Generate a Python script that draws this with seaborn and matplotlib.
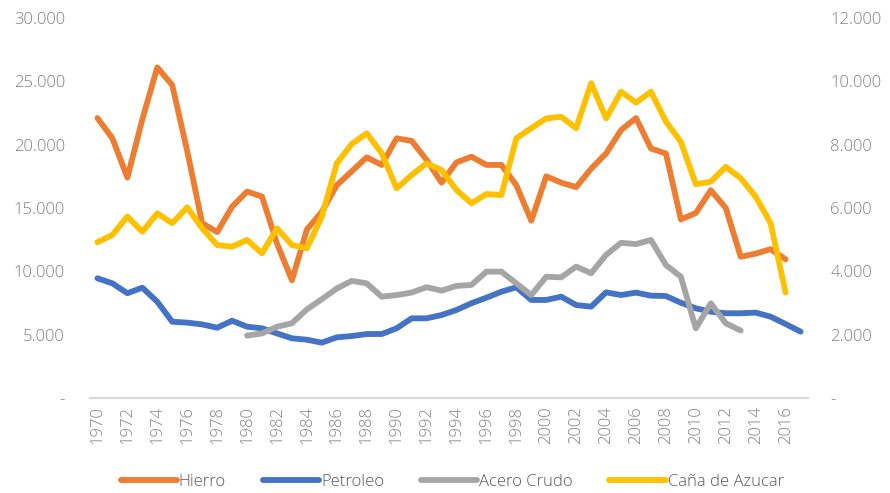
import numpy as np
import pandas as pd
import matplotlib
matplotlib.use("Agg")
import matplotlib.pyplot as plt
from matplotlib.ticker import FuncFormatter
import seaborn as sns

nan = np.nan

# años 1970-2017
years = list(range(1970, 2018))

# eje izquierdo
hierro = [22100, 20500, 17400, 22000, 26100, 24700, 19500, 13800, 13100, 15100,
          16300, 15900, 12200, 9300, 13300, 14700, 16800, 17900, 19000, 18400,
          20500, 20300, 18800, 17000, 18600, 19050, 18400, 18400, 16800, 14000,
          17500, 17000, 16650, 18100, 19300, 21150, 22100, 19700, 19300, 14100,
          14600, 16400, 15000, 11150, 11400, 11750, 10950, nan]
petroleo = [9450, 9050, 8270, 8710, 7600, 6020, 5950, 5810, 5550, 6100,
            5630, 5500, 5100, 4710, 4600, 4370, 4790, 4890, 5050, 5050,
            5500, 6290, 6290, 6550, 6950, 7480, 7920, 8390, 8740, 7740,
            7740, 8000, 7340, 7210, 8340, 8130, 8320, 8080, 8050, 7520,
            7080, 6810, 6690, 6690, 6740, 6420, 5840, 5240]

# eje derecho
acero = [nan] * 10 + [1970, 2040, 2250, 2360, 2800, 3120, 3460, 3700, 3620, 3200,
                      3250, 3330, 3500, 3390, 3540, 3570, 3990, 3990, 3620, 3250,
                      3830, 3810, 4150, 3940, 4520, 4900, 4860, 4990, 4200, 3830,
                      2200, 2990, 2360, 2130] + [nan] * 4
cana = [4920, 5150, 5730, 5250, 5830, 5520, 6020, 5360, 4830, 4780,
        4990, 4570, 5360, 4830, 4730, 5730, 7410, 8020, 8360, 7730,
        6620, 7040, 7410, 7200, 6570, 6150, 6440, 6410, 8200, 8520,
        8830, 8880, 8520, 9940, 8830, 9670, 9330, 9670, 8730, 8090,
        6750, 6830, 7300, 6940, 6360, 5520, 3330, nan]

colores = {"Hierro": "#ED7D31", "Petroleo": "#4472C4",
           "Acero Crudo": "#A5A5A5", "Caña de Azucar": "#FFC000"}

df_izq = pd.DataFrame({"Año": years * 2,
                       "Valor": hierro + petroleo,
                       "Serie": ["Hierro"] * 48 + ["Petroleo"] * 48}).dropna()
df_der = pd.DataFrame({"Año": years * 2,
                       "Valor": acero + cana,
                       "Serie": ["Acero Crudo"] * 48 + ["Caña de Azucar"] * 48}).dropna()

sns.set_style("white")
plt.rcParams["font.family"] = ["Open Sans", "DejaVu Sans"]
plt.rcParams["font.weight"] = "light"
gris = "#808080"

fig = plt.figure(figsize=(8.9, 4.93), dpi=100)
ax = fig.add_axes([0.1011, 0.1927, 0.8068, 0.7708])
ax2 = ax.twinx()

estilo = dict(linewidth=4.2, solid_capstyle="round", solid_joinstyle="round")
sns.lineplot(data=df_izq, x="Año", y="Valor", hue="Serie", palette=colores,
             ax=ax, **estilo)
sns.lineplot(data=df_der, x="Año", y="Valor", hue="Serie", palette=colores,
             ax=ax2, **estilo)

ax.set_xlim(1969.5, 2017.5)
ax.set_ylim(0, 30000)
ax2.set_ylim(0, 12000)
ax.set_yticks(range(0, 30001, 5000))
ax2.set_yticks(range(0, 12001, 2000))
ax.set_xticks(range(1970, 2017, 2))


def miles(v, pos):
    if v == 0:
        return "-"
    return f"{int(v):,}".replace(",", ".")


ax.yaxis.set_major_formatter(FuncFormatter(miles))
ax2.yaxis.set_major_formatter(FuncFormatter(miles))

for a in (ax, ax2):
    a.set_xlabel("")
    a.set_ylabel("")
    for s in a.spines.values():
        s.set_visible(False)
    a.spines["bottom"].set_visible(True)
    a.spines["bottom"].set_color("#D9D9D9")
    a.spines["bottom"].set_linewidth(1.5)
    a.tick_params(length=0, labelsize=12, labelcolor=gris)
    a.grid(False)

ax.tick_params(axis="y", pad=18)
ax2.tick_params(axis="y", pad=16)
ax.tick_params(axis="x", rotation=90, pad=6)

h1, l1 = ax.get_legend_handles_labels()
h2, l2 = ax2.get_legend_handles_labels()
ax.get_legend().remove()
ax2.get_legend().remove()
fig.legend(h1 + h2, l1 + l2, loc="center", bbox_to_anchor=(0.508, 0.022),
           ncol=4, frameon=False, fontsize=12, handlelength=3.4,
           columnspacing=2.2, handletextpad=0.1, labelcolor="#595959")

fig.savefig("out.png", dpi=100)
